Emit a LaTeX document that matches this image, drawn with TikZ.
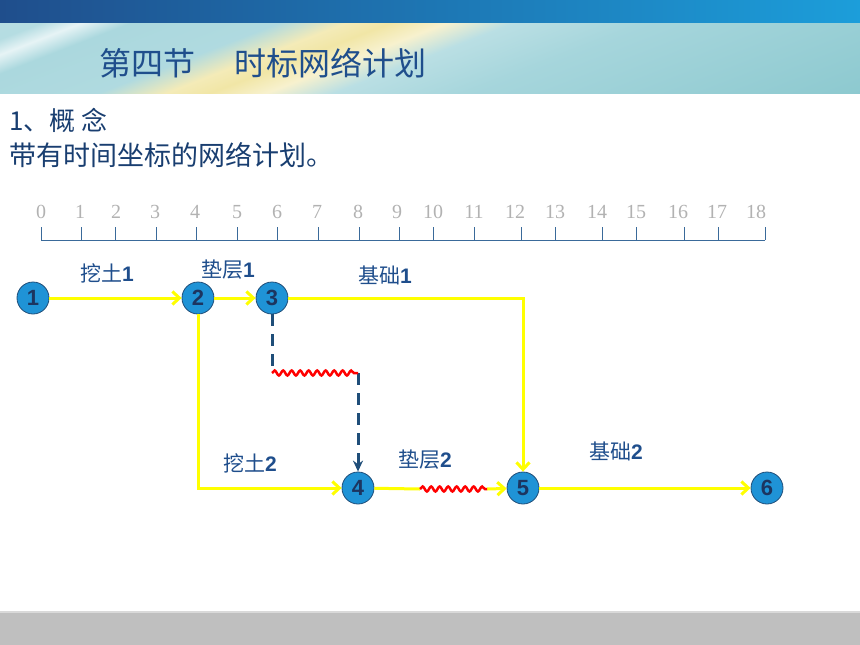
\documentclass[tikz,border=0pt]{standalone}
\usepackage{fontspec}
\setmainfont{Liberation Serif}
\setsansfont{Liberation Sans}
\newfontfamily\cjk{Noto Sans CJK SC}
\usetikzlibrary{arrows.meta,decorations.pathmorphing}

\definecolor{navy}{HTML}{1F4E8C}
\definecolor{evfill}{HTML}{1F93D6}
\definecolor{evline}{HTML}{1F4E79}
\definecolor{evtext}{HTML}{1C3560}
\definecolor{axis}{HTML}{3A6A9A}
\definecolor{work}{HTML}{FFFF00}
\definecolor{sky}{HTML}{9CD1D8}
\definecolor{sand}{HTML}{F1E6A6}
\pgfdeclarehorizontalshading{banner}{100bp}{color(0bp)=(sky!70!white);
	color(25bp)=(sky!70!white); color(29.9bp)=(sky!75!white); color(31.7bp)=(white!75!sky);
	color(33.9bp)=(sky!85!white); color(40.5bp)=(sky!80!white); color(43.5bp)=(sand!80!white);
	color(45.5bp)=(sand); color(48bp)=(sand!55!white); color(51bp)=(sky!70!white);
	color(57bp)=(sky!90!white); color(75bp)=(sky!90!teal); color(100bp)=(sky!90!teal)}

\tikzset{
	event/.style={circle,draw=evline,fill=evfill,thick,minimum size=32pt,inner sep=0pt,
		font=\sffamily\bfseries\fontsize{22}{22}\selectfont,text=evtext},
	act/.style={draw=work,line width=3pt,-{Straight Barb[length=7pt,width=13pt]}},
	dummy/.style={draw=evline,line width=3pt,dash pattern=on 12pt off 8pt},
	float/.style={draw=red,line width=2.5pt,decorate,decoration={snake,amplitude=2.5pt,segment length=8.5pt}},
	lbl/.style={font=\cjk\fontsize{21}{21}\selectfont,text=navy}
}

\begin{document}
\begin{tikzpicture}[x=1pt,y=-1pt]
	\useasboundingbox (0,0) rectangle (860,645);
	\shade[left color=navy,right color=evfill!90!cyan] (0,0) rectangle (860,23);
	\begin{scope}
		\clip (0,23) rectangle (860,93);
		\begin{scope}[transform canvas={xslant=2.57}]
			\shade[shading=banner] (-10,20) rectangle (1110,96);
		\end{scope}
	\end{scope}
	\fill[black!25] (0,613) rectangle (860,645);
	\draw[black!15,line width=2pt] (0,612) -- (860,612);
	
	\node[anchor=west,font=\cjk\fontsize{32}{32}\selectfont,text=navy] (title) at (96,63) {第四节\hspace{39pt}时标网络计划};
	\node[anchor=west,font=\cjk\fontsize{26}{26}\selectfont,text=navy!80!black] (sec) at (6,120) {1、概 念};
	\node[anchor=west,font=\cjk\fontsize{27}{27}\selectfont,text=navy!80!black] (def) at (6,155) {带有时间坐标的网络计划。};
	
	% time scale
	\draw[axis,thick] (41,240) -- (765,240);
	\foreach \n/\lx/\tx in {0/41/41,1/80/81,2/116/115,3/155/156,4/195/196,5/237/237,6/277/277,
		7/317/318,8/358/359,9/397/399,10/433/433,11/474/474,12/515/521,13/555/555,
		14/597/602,15/636/636,16/678/684,17/717/718,18/756/765}
	{
		\draw[axis,thick] (\tx,240) -- (\tx,227);
		\node[font=\fontsize{20}{20}\selectfont,text=black!30] at (\lx,212) {\n};
	}
	
	\node[event] (1) at (33,298) {1};
	\node[event] (2) at (198,298) {2};
	\node[event] (3) at (272,298) {3};
	\node[event] (4) at (358,488) {4};
	\node[event] (5) at (523,488) {5};
	\node[event] (6) at (767,488) {6};
	\coordinate (d1) at (272,373);
	\coordinate (d2) at (358,373);
	\coordinate (w1) at (420,489);
	\coordinate (w2) at (487,489);
	
	\draw[act] (1) -- (2);
	\draw[act] (2) -- (3);
	\draw[act] (3.east) -| (5);
	\draw[act] (2) |- (4);
	\draw[act,-] (4) -- (w1);
	\draw[act] (w2) -- (5);
	\draw[act] (5) -- (6);
	\draw[dummy] (3) -- (d1);
	\draw[dummy,-{Stealth[length=11pt,width=10pt]}] (d2) -- (4);
	\draw[float] (d1) -- (d2);
	\draw[float] (w1) -- (w2);
	
	\node[lbl] (a1) at (107,273) {挖土{\sffamily\bfseries 1}};
	\node[lbl] (b1) at (228,270) {垫层{\sffamily\bfseries 1}};
	\node[lbl] (c1) at (385,275) {基础{\sffamily\bfseries 1}};
	\node[lbl] (a2) at (250,463) {挖土{\sffamily\bfseries 2}};
	\node[lbl] (b2) at (425,460) {垫层{\sffamily\bfseries 2}};
	\node[lbl] (c2) at (616,451) {基础{\sffamily\bfseries 2}};
\end{tikzpicture}
\end{document}
